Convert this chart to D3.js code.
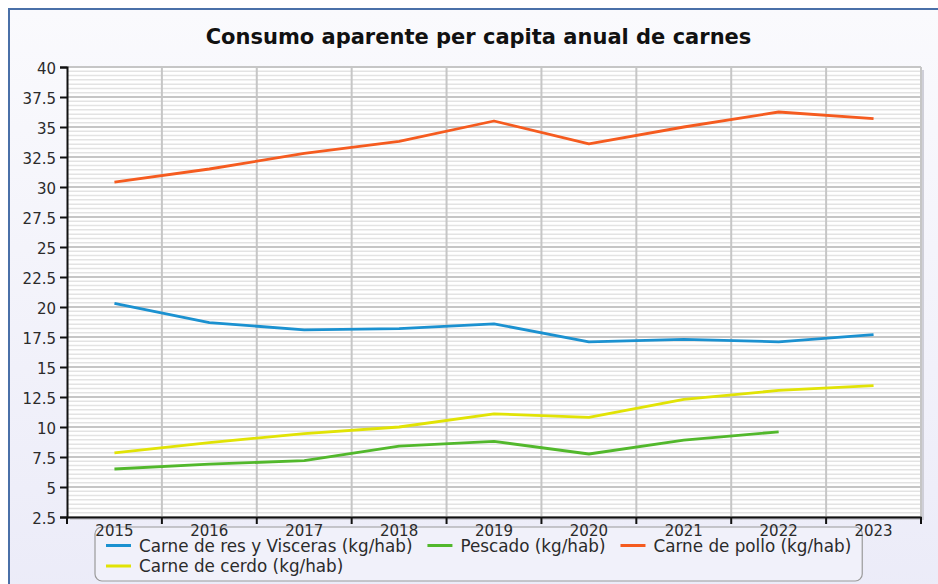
<!DOCTYPE html>
<html>
<head>
<meta charset="utf-8">
<script src="https://cdn.jsdelivr.net/npm/d3@7"></script>
<style>
  html, body { margin: 0; padding: 0; background: #fff; }
  svg { display: block; font-family: "DejaVu Sans", sans-serif; }
</style>
</head>
<body>
<svg id="chart" width="938" height="584"></svg>
<script>
// data
const years = ["2015", "2016", "2017", "2018", "2019", "2020", "2021", "2022", "2023"];
const resVisceras = [20.3, 18.7, 18.1, 18.2, 18.6, 17.1, 17.3, 17.1, 17.7];
const pescado = [6.5, 6.9, 7.2, 8.4, 8.8, 7.75, 8.9, 9.6, null];
const pollo = [30.4, 31.5, 32.8, 33.8, 35.5, 33.6, 35.0, 36.25, 35.7];
const cerdo = [7.85, 8.7, 9.45, 10.0, 11.1, 10.8, 12.3, 13.05, 13.45];
const yTicks = [2.5, 5, 7.5, 10, 12.5, 15, 17.5, 20, 22.5, 25, 27.5, 30, 32.5, 35, 37.5, 40];

const series = [
  { name: "Carne de res y Visceras (kg/hab)", values: resVisceras, color: "#1b91d0" },
  { name: "Pescado (kg/hab)", values: pescado, color: "#52b82c" },
  { name: "Carne de pollo (kg/hab)", values: pollo, color: "#f55b1f" },
  { name: "Carne de cerdo (kg/hab)", values: cerdo, color: "#e1e305" }
];

const svg = d3.select("#chart");
const plot = { left: 67, top: 67, right: 921, bottom: 517 };

// background frame with a soft gradient
const defs = svg.append("defs");
const grad = defs.append("linearGradient")
  .attr("id", "bg").attr("x1", 0).attr("y1", 0).attr("x2", 0).attr("y2", 1);
grad.append("stop").attr("offset", "0%").attr("stop-color", "#fafafd");
grad.append("stop").attr("offset", "100%").attr("stop-color", "#ebebf8");

svg.append("rect")
  .attr("x", 9).attr("y", 9).attr("width", 960).attr("height", 600)
  .attr("fill", "url(#bg)")
  .attr("stroke", "#4a70a8").attr("stroke-width", 2);

// title
svg.append("text")
  .attr("x", 478.5).attr("y", 44)
  .attr("text-anchor", "middle")
  .style("font-size", "21px").style("font-weight", "bold")
  .attr("fill", "#111")
  .text("Consumo aparente per capita anual de carnes");

const x = d3.scaleBand().domain(years).range([plot.left, plot.right]);
const y = d3.scaleLinear().domain([2.5, 40]).range([plot.bottom, plot.top]);

// plot area + shadow
svg.append("rect")
  .attr("x", plot.left + 3).attr("y", plot.top + 3)
  .attr("width", plot.right - plot.left).attr("height", plot.bottom - plot.top)
  .attr("fill", "#cfcfd8");
svg.append("rect")
  .attr("x", plot.left).attr("y", plot.top)
  .attr("width", plot.right - plot.left).attr("height", plot.bottom - plot.top)
  .attr("fill", "#fff");

// minor horizontal grid
const minorStep = 2.5 / 7;
const minor = [];
for (let i = 0; i < yTicks.length - 1; i++) {
  for (let k = 1; k < 7; k++) minor.push(yTicks[i] + k * minorStep);
}
svg.append("g").selectAll("line")
  .data(minor)
  .join("line")
  .attr("x1", plot.left).attr("x2", plot.right)
  .attr("y1", (d) => y(d)).attr("y2", (d) => y(d))
  .attr("stroke", "#e3e3e3").attr("stroke-width", 1.5);

// major horizontal grid
svg.append("g").selectAll("line")
  .data(yTicks)
  .join("line")
  .attr("x1", plot.left).attr("x2", plot.right)
  .attr("y1", (d) => y(d)).attr("y2", (d) => y(d))
  .attr("stroke", "#c6c6c6").attr("stroke-width", 1.8);

// vertical grid on the category boundaries
const bounds = years.map((d) => x(d)).concat([plot.right]);
svg.append("g").selectAll("line")
  .data(bounds.slice(1))
  .join("line")
  .attr("x1", (d) => d).attr("x2", (d) => d)
  .attr("y1", plot.top).attr("y2", plot.bottom)
  .attr("stroke", "#c6c6c6").attr("stroke-width", 2);

// lines
const line = d3.line()
  .defined((d) => d != null)
  .x((d, i) => x(years[i]) + x.bandwidth() / 2)
  .y((d) => y(d));

svg.append("g").selectAll("path")
  .data(series)
  .join("path")
  .attr("d", (s) => line(s.values))
  .attr("fill", "none")
  .attr("stroke", (s) => s.color)
  .attr("stroke-width", 2.8)
  .attr("stroke-linejoin", "round");

// legend (flow layout, wraps to a second row)
const legend = svg.append("g");
const box = legend.append("rect")
  .attr("fill", "#f1f1fa").attr("stroke", "#9a9a9a").attr("stroke-width", 1.2)
  .attr("rx", 7).attr("ry", 7);

const items = legend.selectAll("g.item")
  .data(series)
  .join("g")
  .attr("class", "item");
items.append("line")
  .attr("x1", 0).attr("x2", 25)
  .attr("stroke", (s) => s.color).attr("stroke-width", 3);
items.append("text")
  .attr("x", 33).attr("dy", "0.36em")
  .attr("fill", "#2b2b2b")
  .style("font-size", "16.8px")
  .text((s) => s.name);

const boxX = 95, boxY = 527, padX = 11, rowH = 20.5, maxW = 760;
let cx = 0, row = 0, rowEnd = 0;
items.each(function() {
  const w = 33 + d3.select(this).select("text").node().getComputedTextLength();
  if (cx > 0 && cx + w > maxW) { cx = 0; row += 1; }
  d3.select(this).attr("transform", `translate(${boxX + padX + cx},${boxY + 18.5 + row * rowH})`);
  rowEnd = Math.max(rowEnd, cx + w);
  cx += w + 15;
});
box.attr("x", boxX).attr("y", boxY)
  .attr("width", rowEnd + padX * 2)
  .attr("height", 54);

// axes drawn last so the year labels sit over the legend box like the original
const yAxis = svg.append("g")
  .attr("transform", `translate(${plot.left},0)`)
  .call(d3.axisLeft(y).tickValues(yTicks).tickSize(7).tickPadding(4).tickFormat((d) => String(d)));
yAxis.select(".domain").attr("stroke", "#111").attr("stroke-width", 2);
yAxis.selectAll(".tick line").attr("stroke", "#111").attr("stroke-width", 2);
yAxis.selectAll(".tick text")
  .attr("fill", "#2b2b2b").style("font-size", "15px").style("font-family", "DejaVu Sans")
  .attr("dy", "0.4em");

const xAxis = svg.append("g")
  .attr("transform", `translate(0,${plot.bottom})`)
  .call(d3.axisBottom(x).tickSize(0).tickPadding(8));
xAxis.select(".domain").attr("stroke", "#111").attr("stroke-width", 2);
xAxis.selectAll(".tick text")
  .attr("fill", "#2b2b2b").style("font-size", "15px").style("font-family", "DejaVu Sans");
xAxis.selectAll(".bound")
  .data(bounds)
  .join("line")
  .attr("class", "bound")
  .attr("x1", (d) => d).attr("x2", (d) => d)
  .attr("y1", 0).attr("y2", 7)
  .attr("stroke", "#111").attr("stroke-width", 2);
</script>
</body>
</html>
